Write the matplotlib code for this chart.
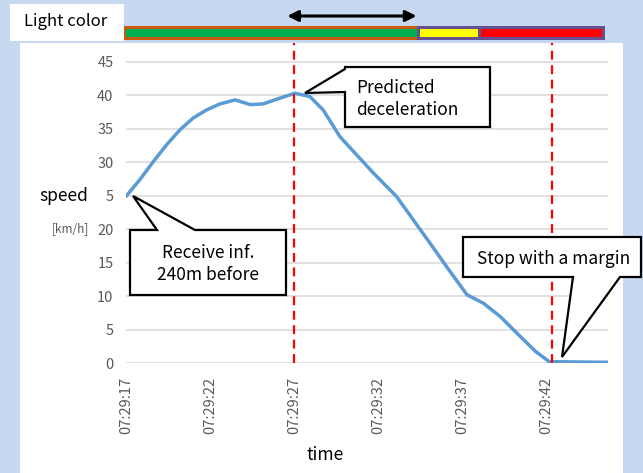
import matplotlib.pyplot as plt
from matplotlib.patches import Rectangle, Polygon

plt.rcParams['font.family'] = ['Noto Sans CJK JP', 'DejaVu Sans']

# speed log, seconds after 07:29:17
t_sec = [0, 0.83, 1.63, 2.42, 3.2, 4.0, 4.8, 5.6, 6.5, 7.4, 8.17, 8.97, 10.06,
         10.95, 11.74, 12.74, 13.73, 14.72, 16.1, 17.1, 18.1, 19.2, 20.3, 21.3,
         22.3, 23.5, 24.4, 25.2, 28.7]
speed = [24.9, 27.4, 30.1, 32.6, 34.8, 36.6, 37.8, 38.7, 39.3, 38.6, 38.7, 39.4,
         40.3, 39.8, 37.8, 33.8, 31.1, 28.4, 24.9, 21.4, 17.9, 14.0, 10.2, 8.9,
         6.9, 3.9, 1.7, 0.2, 0.1]

tick_sec = [0, 5, 10, 15, 20, 25]
tick_labels = ['07:29:17', '07:29:22', '07:29:27', '07:29:32', '07:29:37', '07:29:42']
y_ticks = [0, 5, 10, 15, 20, 25, 30, 35, 40, 45]
y_labels = ['0', '5', '10', '15', '20', '5', '30', '35', '40', '45']  # "2" hidden behind "speed"

# traffic light phases (start, end, colour, border)
light_start = [-0.1, 17.4, 21.0]
light_end = [17.4, 21.0, 28.4]
light_color = ['#00b050', '#ffff00', '#ff0000']
light_edge = ['#c55a11', '#65518f', '#65518f']

events = [10.0, 25.35]  # dashed markers
arrow_span = [9.6, 17.3]

W, H = 643, 473
def px(x, y):
    return (x / W, 1 - y / H)

fig = plt.figure(figsize=(6.43, 4.73), dpi=100)
fig.patch.set_facecolor('#c6d9f1')

# white chart panel
fig.add_artist(Rectangle(px(20, 473), 603 / W, 430 / H, transform=fig.transFigure,
                         facecolor='white', edgecolor='none', zorder=0))

ax = fig.add_axes([126 / W, 1 - 363 / H, (608 - 126) / W, (363 - 43) / H])
ax.set_facecolor('white')
ax.plot(t_sec, speed, color='#5b9bd5', lw=2.5, zorder=3, solid_capstyle='round',
        solid_joinstyle='round')
for e in events:
    ax.vlines(e, 0, 47.8, colors='#ff0000', linestyles=(0, (4, 2.5)), lw=1.6, zorder=4)

ax.set_xlim(0, 28.7)
ax.set_ylim(0, 47.8)
ax.set_yticks(y_ticks)
ax.set_yticklabels(y_labels)
ax.set_xticks(tick_sec)
ax.set_xticklabels(tick_labels, rotation=90)
ax.tick_params(length=0, labelsize=10.5, labelcolor='#595959')
ax.tick_params(axis='y', pad=9)
ax.tick_params(axis='x', pad=10)
ax.grid(axis='y', color='#d9d9d9', lw=1.1)
ax.set_axisbelow(True)
for s in ax.spines.values():
    s.set_visible(False)

# light colour bar on same time scale
bx = fig.add_axes([126 / W, 1 - 40 / H, (608 - 126) / W, 15 / H])
bx.set_xlim(0, 28.7)
bx.set_ylim(0, 1)
bx.axis('off')
for s0, s1, c, ec in zip(light_start, light_end, light_color, light_edge):
    bx.barh(0.5, s1 - s0, left=s0, height=0.78, color=c, edgecolor=ec, lw=2.2, clip_on=False)
bx.annotate('', xy=(arrow_span[1], 1.6), xytext=(arrow_span[0], 1.6),
            arrowprops=dict(arrowstyle='<|-|>', lw=2.2, color='black', mutation_scale=16,
                            shrinkA=0, shrinkB=0),
            annotation_clip=False)

# "Light color" tag
fig.add_artist(Rectangle(px(10, 41), 114 / W, 37 / H, transform=fig.transFigure,
                         facecolor='white', edgecolor='none', zorder=1))
fig.text(*px(66, 22), 'Light color', ha='center', va='center', fontsize=12, zorder=2)

fig.text(*px(64, 196), 'speed', ha='center', va='center', fontsize=12.5)
fig.text(*px(70, 229), '[km/h]', ha='center', va='center', fontsize=8.5, color='#595959')
fig.text(*px(325, 455), 'time', ha='center', va='center', fontsize=12.5)

# callouts
def callout(points, text, tx, ty, ha='center'):
    poly = Polygon([px(x, y) for x, y in points], closed=True, transform=fig.transFigure,
                   facecolor='white', edgecolor='black', lw=1.6, zorder=5, joinstyle='miter')
    fig.add_artist(poly)
    fig.text(*px(tx, ty), text, ha=ha, va='center', fontsize=12.5, zorder=6,
             linespacing=1.25)

callout([(130, 230), (157, 230), (133, 196), (195, 230), (286, 230), (286, 295), (130, 295)],
        'Receive inf.\n240m before', 208, 264)
callout([(345, 67), (490, 67), (490, 127), (345, 127), (345, 92), (305, 93), (345, 69)],
        'Predicted\ndeceleration', 356, 99, ha='left')
callout([(463, 237), (641, 237), (641, 277), (620, 277), (562, 357), (573, 277), (463, 277)],
        'Stop with a margin', 554, 259)

fig.savefig('out.png', dpi=100)
